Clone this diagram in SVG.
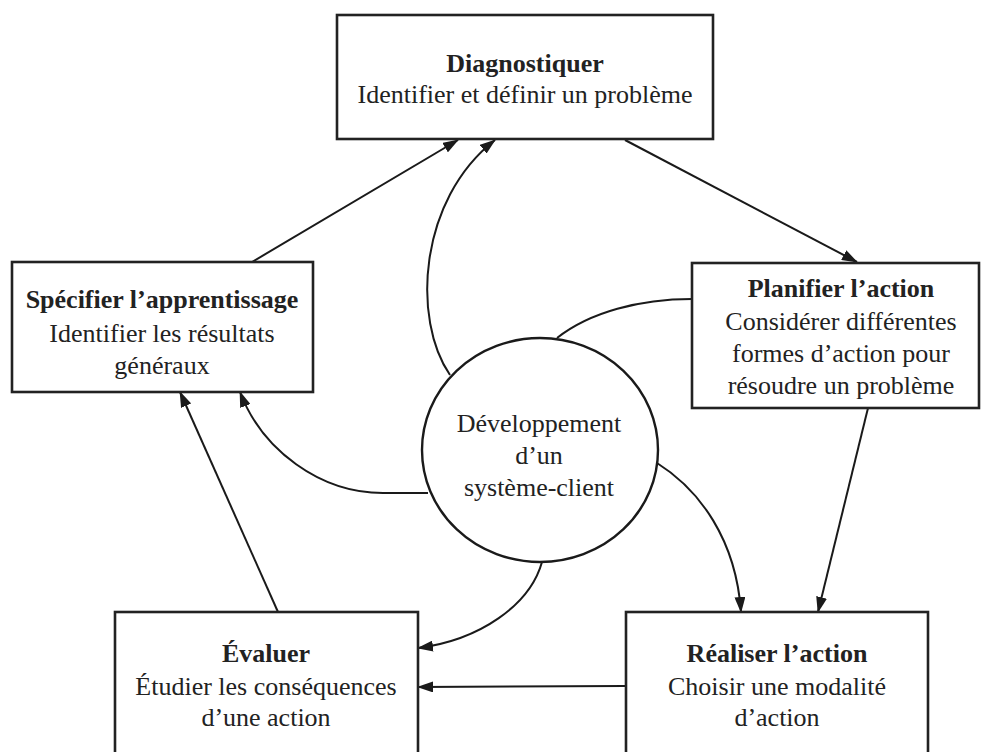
<svg xmlns="http://www.w3.org/2000/svg" width="983" height="752" viewBox="0 0 983 752">
<style>
.box{fill:#fff;stroke:#222;stroke-width:2.6}
.circ{fill:#fff;stroke:#1a1a1a;stroke-width:2.4}
.t{font-family:"Liberation Serif","Times New Roman",serif;font-size:26px;fill:#222;text-anchor:middle}
.b{font-weight:bold}
.c{fill:none;stroke:#1a1a1a;stroke-width:2}
.a{marker-end:url(#ah)}
</style>
<defs>
<marker id="ah" markerUnits="userSpaceOnUse" markerWidth="16" markerHeight="11" refX="15" refY="5.5" orient="auto">
<path d="M0,0 L16,5.5 L0,11 z" fill="#1a1a1a"/>
</marker>
</defs>
<rect width="983" height="752" fill="#fff"/>
<g id="connectors">
<path class="c a" d="M625,140 L857,262"/>
<path class="c a" d="M252,262 L458,140"/>
<path class="c a" d="M450,375 C412,320 418,200 495,140"/>
<path class="c" d="M557,338 C590,312 640,299 692,299"/>
<path class="c a" d="M657,463 C700,490 736,540 741,612"/>
<path class="c a" d="M868,408 L818,612"/>
<path class="c a" d="M625,686 L418,687"/>
<path class="c a" d="M542,562 C530,605 480,640 418,648"/>
<path class="c a" d="M278,612 L180,392"/>
<path class="c a" d="M428,493 L383,493 C320,493 262,450 240,392"/>
</g>
<g id="diagnostiquer">
<rect class="box" x="337" y="15" width="376" height="124"/>
<text class="t b" x="525" y="72">Diagnostiquer</text>
<text class="t" x="525" y="103">Identifier et définir un problème</text>
</g>
<g id="specifier">
<rect class="box" x="12" y="262" width="301" height="130"/>
<text class="t b" x="162" y="308">Spécifier l’apprentissage</text>
<text class="t" x="162" y="342">Identifier les résultats</text>
<text class="t" x="162" y="374">généraux</text>
</g>
<g id="planifier">
<rect class="box" x="692" y="263" width="287" height="145"/>
<text class="t b" x="841" y="297">Planifier l’action</text>
<text class="t" x="841" y="330">Considérer différentes</text>
<text class="t" x="841" y="362">formes d’action pour</text>
<text class="t" x="841" y="394">résoudre un problème</text>
</g>
<g id="systeme-client">
<ellipse class="circ" cx="540" cy="450" rx="118" ry="112"/>
<text class="t" x="539" y="432">Développement</text>
<text class="t" x="539" y="464">d’un</text>
<text class="t" x="539" y="496">système-client</text>
</g>
<g id="evaluer">
<rect class="box" x="115" y="612" width="303" height="160"/>
<text class="t b" x="266" y="662">Évaluer</text>
<text class="t" x="266" y="695">Étudier les conséquences</text>
<text class="t" x="266" y="726">d’une action</text>
</g>
<g id="realiser">
<rect class="box" x="626" y="612" width="302" height="160"/>
<text class="t b" x="777" y="662">Réaliser l’action</text>
<text class="t" x="777" y="695">Choisir une modalité</text>
<text class="t" x="777" y="726">d’action</text>
</g>
</svg>
